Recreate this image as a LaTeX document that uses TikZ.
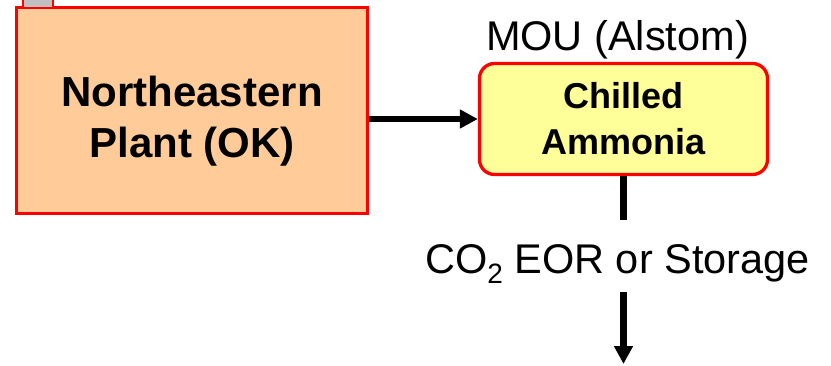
\documentclass[tikz,border=0pt]{standalone}
\usepackage{fontspec}
\setmainfont{Liberation Sans}
\usetikzlibrary{arrows.meta}
\definecolor{peach}{RGB}{255,204,153}
\definecolor{paleyellow}{RGB}{255,255,153}
\definecolor{boxred}{RGB}{255,0,0}
\definecolor{tabgray}{RGB}{192,192,192}
\tikzset{
  plantbox/.style={draw=boxred, line width=3pt, fill=peach, minimum width=351pt, minimum height=206pt, inner sep=0pt},
  tabbox/.style={draw=boxred, line width=1.5pt, fill=tabgray, minimum width=30pt, minimum height=13pt, inner sep=0pt},
  processbox/.style={draw=boxred, line width=3.3pt, fill=paleyellow, rounded corners=15pt, minimum width=288pt, minimum height=111pt, inner sep=0pt},
  boldtext/.style={inner sep=0pt, align=center, font=\fontsize{42}{51}\selectfont\bfseries},
  boldsmall/.style={inner sep=0pt, align=center, font=\fontsize{36}{46}\selectfont\bfseries},
  plainlabel/.style={inner sep=0pt, font=\fontsize{41.5}{46}\selectfont},
  flow/.style={line width=6.5pt, -{Triangle[length=18pt,width=18pt]}},
  flowline/.style={line width=6.5pt}
}
\begin{document}
\begin{tikzpicture}[x=1pt,y=-1pt]
\useasboundingbox (0,0) rectangle (831,365);
\node[plantbox] (plant) at (192,110) {};
\node[tabbox] (tab) at (38,1) {};
\node[boldtext, anchor=north] (planttext) at (192,76) {Northeastern\\Plant (OK)};
\node[processbox] (mou) at (623.5,119) {};
\node[boldsmall, anchor=north] (moutext) at (623.5,82) {Chilled\\Ammonia};
\node[plainlabel, anchor=base] (moulabel) at (617.5,50) {MOU (Alstom)};
\node[plainlabel, anchor=base] (co2) at (617.5,273) {CO\raisebox{-0.25em}{\fontsize{28}{28}\selectfont 2} EOR or Storage};
\coordinate (gapTop) at (623.5,220);
\coordinate (gapBot) at (623.5,292);
\coordinate (sink) at (623.5,364);
\draw[flow] (plant.east |- mou.west) -- (mou.west);
\draw[flowline] (mou.south) -- (gapTop);
\draw[flow] (gapBot) -- (sink);
\end{tikzpicture}
\end{document}
